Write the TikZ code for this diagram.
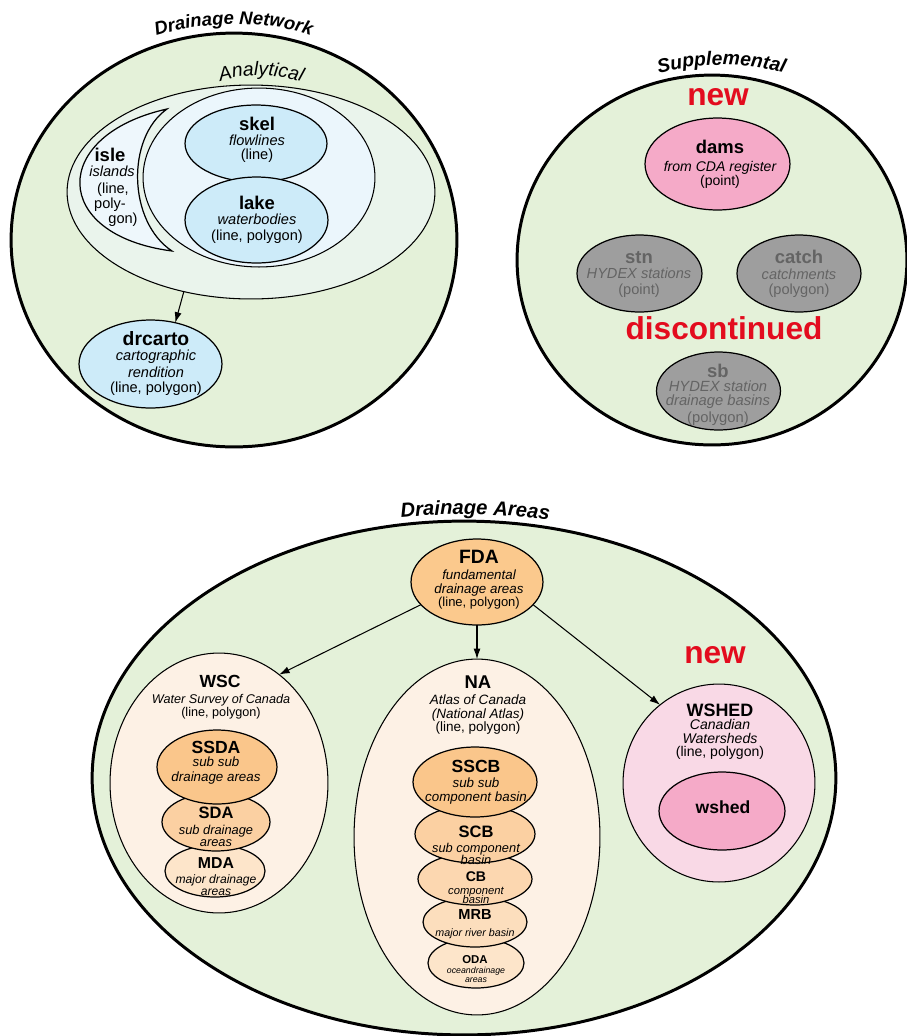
\documentclass[tikz,border=0pt]{standalone}
\usepackage{fontspec}
\setmainfont{Liberation Sans}
\usetikzlibrary{shapes.geometric,arrows.meta,decorations.text}

\definecolor{regiongreen}{HTML}{E4F1D9}
\definecolor{analyticfill}{HTML}{EAF4EC}
\definecolor{corefill}{HTML}{EBF6FC}
\definecolor{isleblue}{HTML}{EEF7FC}
\definecolor{netblue}{HTML}{CDEBF9}
\definecolor{newpink}{HTML}{F5AAC8}
\definecolor{lightpink}{HTML}{F9D9E6}
\definecolor{oldgray}{HTML}{9E9E9E}
\definecolor{oldtext}{HTML}{646464}
\definecolor{peach}{HTML}{FDF1E5}
\definecolor{orangeA}{HTML}{FBC98D}
\definecolor{orangeB}{HTML}{FAC68B}
\definecolor{orangeC}{HTML}{FBD0A2}
\definecolor{orangeD}{HTML}{FCD7B0}
\definecolor{orangeE}{HTML}{FCDEBD}
\definecolor{orangeF}{HTML}{FDE5CA}
\definecolor{alertred}{HTML}{E30C1E}

\tikzset{
  ell/.style 2 args={ellipse, inner sep=0pt, outer sep=0pt,
    minimum width={#1*0.04cm}, minimum height={#2*0.04cm}},
  region/.style={draw, line width=1.7pt, fill=regiongreen},
  blob/.style={draw, line width=0.7pt},
  conn/.style={-{Latex[length=6pt,width=4pt]}, line width=0.6pt},
  lbl/.style={inner sep=0pt, anchor=mid},
  ttl/.style={lbl, font=\fontsize{#1}{#1}\selectfont\bfseries},
  ttl/.default=10.5,
  itl/.style={lbl, font=\fontsize{#1}{#1}\selectfont\itshape},
  itl/.default=8.3,
  rgl/.style={lbl, font=\fontsize{#1}{#1}\selectfont},
  rgl/.default=8.3,
  alert/.style={lbl, text=alertred, font=\fontsize{18}{18}\selectfont\bfseries},
  curved/.style={decorate, decoration={text along path, text align=center,
    text={#1}}}
}

\begin{document}
\begin{tikzpicture}[x=0.02cm, y=-0.02cm]
\useasboundingbox (0,0) rectangle (907,1036);

% ---------------- Drainage Network ----------------
\node[ell={223}{207}, region] (dn) at (234,240) {};
\path[curved={|\fontsize{10.5}{12}\selectfont\bfseries\itshape|Drainage Network}]
  (145,40) .. controls (195,20) and (275,18) .. (322,40);

\node[ell={184}{107}, draw, line width=0.6pt, fill=analyticfill] (an) at (251,192) {};
\path[curved={|\fontsize{11}{12}\selectfont\itshape|Analytical}]
  (210,85) .. controls (240,72) and (280,72) .. (312,86);
\node[ell={116}{89.5}, draw, line width=0.6pt, fill=corefill] (core) at (259,177.5) {};

% crescent of islands
\draw[line width=0.7pt, fill=isleblue]
  (167,109) .. controls (50,135) and (50,235) .. (172,251)
            .. controls (128,222) and (126,138) .. cycle;
\node[ttl] (isle1) at (110,157) {isle};
\node[itl] (isle2) at (112,172) {islands};
\node[rgl] (isle3) at (113,189) {(line,};
\node[rgl] (isle4) at (110,204) {poly-};
\node[rgl] (isle5) at (123,219) {gon)};

\node[ell={71}{38.5}, blob, fill=netblue] (skel) at (256,143.5) {};
\node[ell={71.5}{43}, blob, fill=netblue] (lake) at (256.5,220) {};
\node[ttl] (skel1) at (257,126) {skel};
\node[itl] (skel2) at (257,141) {flowlines};
\node[rgl] (skel3) at (257,155) {(line)};
\node[ttl] (lake1) at (257,205) {lake};
\node[itl] (lake2) at (257,220) {waterbodies};
\node[rgl] (lake3) at (257,236) {(line, polygon)};

\node[ell={71.5}{44}, blob, fill=netblue] (drcarto) at (150.5,364) {};
\node[ttl=11] (drc1) at (156,341) {drcarto};
\node[itl] (drc2) at (156,356) {cartographic};
\node[itl] (drc3) at (156,373) {rendition};
\node[rgl] (drc4) at (156,388) {(line, polygon)};
\draw[conn] (an.236) -- (drcarto.59);

% ---------------- Supplemental ----------------
\node[ell={195}{185}, region] (supp) at (712,260) {};
\path[curved={|\fontsize{11}{12}\selectfont\bfseries\itshape|Supplemental}]
  (646,77) .. controls (690,62) and (750,60) .. (797,77);

\node[alert] (new1) at (718,101) {new};
\node[ell={72.5}{46}, blob, fill=newpink] (dams) at (717.5,164) {};
\node[ttl] (dams1) at (720,149) {dams};
\node[itl=8] (dams2) at (720,167) {from CDA register};
\node[rgl=8] (dams3) at (720,181) {(point)};

\begin{scope}[text=oldtext]
\node[ell={62.5}{38.5}, blob, fill=oldgray] (stn) at (639.5,273.5) {};
\node[ttl] (stn1) at (639,259) {stn};
\node[itl] (stn2) at (639,274) {HYDEX stations};
\node[rgl] (stn3) at (639,290) {(point)};

\node[ell={62}{38.5}, blob, fill=oldgray] (catch) at (799,273.5) {};
\node[ttl] (catch1) at (799,259) {catch};
\node[itl] (catch2) at (799,275) {catchments};
\node[rgl] (catch3) at (799,290) {(polygon)};

\node[ell={62}{39}, blob, fill=oldgray] (sb) at (718.5,391) {};
\node[ttl] (sb1) at (718,373) {sb};
\node[itl=8.4] (sb2) at (718,387) {HYDEX station};
\node[itl=8.4] (sb3) at (718,401) {drainage basins};
\node[rgl=8.4] (sb4) at (718,418) {(polygon)};
\end{scope}
\node[alert] (disc) at (724,335) {discontinued};

% ---------------- Drainage Areas ----------------
\node[ell={372}{257}, region] (da) at (464,778) {};
\path[curved={|\fontsize{11.5}{12}\selectfont\bfseries\itshape|Drainage Areas}]
  (396,518) .. controls (440,513) and (510,513) .. (554,521);

\node[ell={66}{43}, blob, fill=orangeA] (FDA) at (477,582) {};
\node[ttl=11] (fda1) at (479,559) {FDA};
\node[itl=7.6] (fda2) at (479,575) {fundamental};
\node[itl=7.6] (fda3) at (479,589) {drainage areas};
\node[rgl=7.4] (fda4) at (479,602) {(line, polygon)};

% Water Survey of Canada
\node[ell={109}{130}, blob, line width=0.6pt, fill=peach] (WSC) at (219,783) {};
\node[ttl=10] (wsc1) at (220,683) {WSC};
\node[itl=7.2] (wsc2) at (221,699) {Water Survey of Canada};
\node[rgl=7.2] (wsc3) at (221,712) {(line, polygon)};

\node[ell={50}{26}, blob, fill=orangeF] (MDA) at (215,871) {};
\node[ell={54}{29}, blob, fill=orangeC] (SDA) at (216,822) {};
\node[ell={60}{37}, blob, fill=orangeB] (SSDA) at (217,767) {};
\node[ttl=10] (ssda1) at (216,749) {SSDA};
\node[itl=7.6] (ssda2) at (216,762) {sub sub};
\node[itl=7.6] (ssda3) at (216,777) {drainage areas};
\node[ttl=9.4] (sda1) at (216,814) {SDA};
\node[itl=7.3] (sda2) at (216,830) {sub drainage};
\node[itl=7.3] (sda3) at (216,842) {areas};
\node[ttl=9] (mda1) at (216,864) {MDA};
\node[itl=6.9] (mda2) at (216,879) {major drainage};
\node[itl=6.9] (mda3) at (216,891) {areas};

% National Atlas
\node[ell={123}{178}, blob, line width=0.6pt, fill=peach] (NA) at (477,837) {};
\node[ttl=10.5] (na1) at (478,684) {NA};
\node[itl=7.7] (na2) at (478,700) {Atlas of Canada};
\node[itl=7.7] (na3) at (478,714) {(National Atlas)};
\node[rgl=7.7] (na4) at (478,727) {(line, polygon)};

\node[ell={48}{25}, blob, fill=orangeF] (ODA) at (476,963) {};
\node[ell={52}{25}, blob, fill=orangeE] (MRB) at (475,922) {};
\node[ell={57}{26}, blob, fill=orangeD] (CB) at (475,879) {};
\node[ell={60}{29}, blob, fill=orangeC] (SCB) at (475,834) {};
\node[ell={62}{35}, blob, fill=orangeB] (SSCB) at (475,782) {};
\node[ttl=10] (sscb1) at (476,768) {SSCB};
\node[itl=7.6] (sscb2) at (476,783) {sub sub};
\node[itl=7.6] (sscb3) at (476,797) {component basin};
\node[ttl=9.4] (scb1) at (476,833) {SCB};
\node[itl=7.3] (scb2) at (476,848) {sub component};
\node[itl=7.3] (scb3) at (476,860) {basin};
\node[ttl=8] (cb1) at (476,877) {CB};
\node[itl=6.4] (cb2) at (476,890) {component};
\node[itl=6.4] (cb3) at (476,899) {basin};
\node[ttl=8.3] (mrb1) at (475,915) {MRB};
\node[itl=6.1] (mrb2) at (475,932) {major river basin};
\node[ttl=6.5] (oda1) at (475,959) {ODA};
\node[itl=5] (oda2) at (476,969) {oceandrainage};
\node[itl=5] (oda3) at (476,978) {areas};

% Canadian Watersheds
\node[alert] (new2) at (715,659) {new};
\node[ell={96}{99}, blob, line width=0.6pt, fill=lightpink] (WSHED) at (719,783) {};
\node[ttl=10.2] (wshed1) at (720,712) {WSHED};
\node[itl=8] (wshed2) at (720,725) {Canadian};
\node[itl=8] (wshed3) at (720,739) {Watersheds};
\node[rgl=8] (wshed4) at (720,752) {(line, polygon)};
\node[ell={63}{39}, blob, fill=newpink] (wshed) at (722,811) {};
\node[ttl=10] (wshed5) at (723,809) {wshed};

% connectors out of FDA
\draw[conn] (FDA.202) -- (WSC.61);
\draw[conn] (FDA.south) -- (NA.north);
\draw[conn] (FDA.338) -- (WSHED.127);
\end{tikzpicture}
\end{document}
